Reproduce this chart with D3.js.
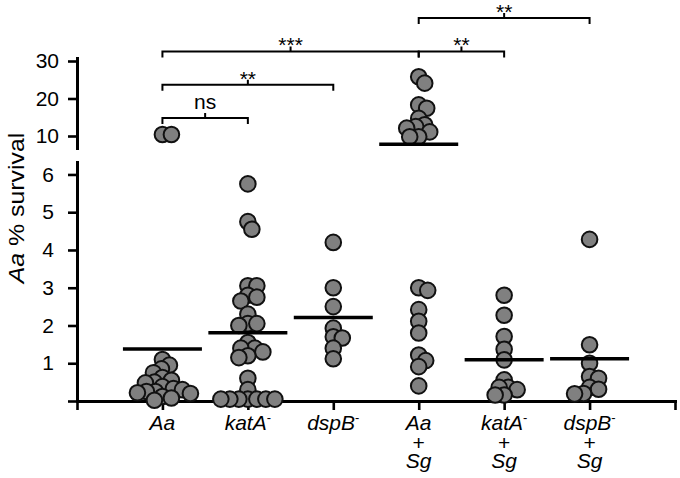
<!DOCTYPE html>
<html><head><meta charset="utf-8">
<script src="https://cdn.jsdelivr.net/npm/d3@7"></script>
<style>body{margin:0;background:#fff} svg{display:block;font-family:"Liberation Sans",Arial,sans-serif}</style>
</head><body><svg id="c" width="680" height="478"></svg>
<script>
// ---- data ----
const groups = ["Aa", "katA-", "dspB-", "Aa+Sg", "katA-+Sg", "dspB-+Sg"];
const strain = ["Aa", "katA", "dspB", "Aa", "katA", "dspB"];
const strainSup = ["", "-", "-", "", "-", "-"];
const withSg = [false, false, false, true, true, true];

const valsAa = [10.4, 10.4, 1.1, 0.95, 0.85, 0.75, 0.62, 0.55, 0.5, 0.48, 0.38, 0.33, 0.3, 0.25, 0.25, 0.22, 0.2, 0.12, 0.08, 0.02];
const valsKatA = [5.75, 4.75, 4.55, 3.05, 3.05, 2.8, 2.75, 2.65, 2.3, 2.05, 2.05, 2.0, 1.55, 1.4, 1.4, 1.3, 1.2, 1.15, 0.6, 0.3, 0.05, 0.05, 0.05, 0.05, 0.05, 0.05, 0.05];
const valsDspB = [4.2, 3.0, 2.5, 1.93, 1.7, 1.67, 1.4, 1.12];
const valsAaSg = [25.8, 24.1, 18.3, 17.4, 14.7, 13.0, 12.5, 12.1, 11.1, 9.8, 9.8, 3.0, 2.93, 2.42, 2.11, 1.8, 1.22, 1.07, 0.91, 0.4];
const valsKatASg = [2.8, 2.27, 1.71, 1.37, 1.09, 0.56, 0.36, 0.36, 0.3, 0.16, 0.16];
const valsDspBSg = [4.28, 1.49, 1.0, 0.65, 0.6, 0.36, 0.31, 0.2, 0.19];
const seriesValues = [valsAa, valsKatA, valsDspB, valsAaSg, valsKatASg, valsDspBSg];
const means = [1.38, 1.81, 2.21, 7.8, 1.09, 1.12];

const lowTicks = [0, 1, 2, 3, 4, 5, 6];
const highTicks = [10, 20, 30];
const comparisons = [[0, 1, "ns"], [0, 2, "**"], [0, 3, "***"], [3, 4, "**"], [3, 5, "**"]];
const compLevel = [0, 1, 2, 2, 3];

// ---- layout ----
const svg = d3.select("#c");
const FONT = 21;
const x = d3.scaleLinear().domain([-1, groups.length]).range([77, 675]);
const cut = 6.33;
const yLow = d3.scaleLinear().domain([0, cut]).range([401, 162]);
const yHigh = d3.scaleLinear().domain([6.8, 30.8]).range([148, 58]);
const yOf = v => v > cut ? yHigh(v) : yLow(v);

function styleAxis(g) {
  g.select(".domain").attr("stroke-width", 3).attr("stroke", "#000").attr("stroke-linecap", "square");
  g.selectAll(".tick line").attr("stroke-width", 2.6).attr("stroke", "#000");
  g.selectAll(".tick text").attr("font-size", FONT).attr("fill", "#000")
    .attr("font-family", '"Liberation Sans",Arial,sans-serif');
}

// x axis
const gx = svg.append("g").attr("transform", "translate(0,401)")
  .call(d3.axisBottom(x).tickValues(d3.range(-1, groups.length + 1)).tickSize(9).tickSizeOuter(0).tickFormat(""));
styleAxis(gx);

// y axes
const gyL = svg.append("g").attr("transform", "translate(77,0)")
  .call(d3.axisLeft(yLow).tickValues(lowTicks).tickSize(9).tickSizeOuter(0).tickPadding(14)
    .tickFormat(d => d === 0 ? "" : d));
styleAxis(gyL);
const gyH = svg.append("g").attr("transform", "translate(77,0)")
  .call(d3.axisLeft(yHigh).tickValues(highTicks).tickSize(9).tickSizeOuter(0).tickPadding(9));
styleAxis(gyH);

// y title
const yt = svg.append("text").attr("transform", "translate(24,208) rotate(-90) scale(1.13,1)")
  .attr("text-anchor", "middle").attr("font-size", 22);
yt.append("tspan").attr("font-style", "italic").text("Aa");
yt.append("tspan").text(" % survival");

// x labels
groups.forEach((g, i) => {
  const t = svg.append("text").attr("x", x(i)).attr("y", 430).attr("text-anchor", "middle")
    .attr("font-size", FONT).attr("font-style", "italic");
  t.append("tspan").text(strain[i]);
  if (strainSup[i]) t.append("tspan").attr("font-size", 13).attr("font-style", "normal").attr("dy", -8).text(strainSup[i]);
  if (withSg[i]) {
    t.append("tspan").attr("x", x(i)).attr("y", 450).attr("font-style", "normal").text("+");
    t.append("tspan").attr("x", x(i)).attr("y", 468).text("Sg");
  }
});

// swarm
function swarm(ys, d) {
  const placed = [];
  return ys.map(y => {
    for (let k = 0; k < 400; k++) {
      const off = k === 0 ? 0 : (k % 2 ? Math.ceil(k / 2) : -Math.ceil(k / 2));
      if (placed.every(p => (p.x - off) ** 2 + (p.y - y) ** 2 >= d * d)) {
        placed.push({ x: off, y });
        return off;
      }
    }
    return 0;
  });
}

const pts = [];
seriesValues.forEach((vals, i) => {
  const ys = vals.map(yOf);
  const offs = swarm(ys, 8.5);
  vals.forEach((v, j) => pts.push({ cx: x(i) + offs[j], cy: ys[j] }));
});
svg.append("g").selectAll("circle").data(pts).join("circle")
  .attr("cx", d => d.cx).attr("cy", d => d.cy).attr("r", 7.8)
  .attr("fill", "#808080").attr("stroke", "#111").attr("stroke-width", 2);

// mean lines
svg.append("g").selectAll("line").data(means).join("line")
  .attr("x1", (m, i) => x(i) - 39.5).attr("x2", (m, i) => x(i) + 39.5)
  .attr("y1", m => yOf(m)).attr("y2", m => yOf(m))
  .attr("stroke", "#000").attr("stroke-width", 3.5);

// significance brackets
comparisons.forEach(([a, b, lab], k) => {
  const yB = 118 - compLevel[k] * 33.3;
  const xa = x(a), xb = x(b), cx = (xa + xb) / 2;
  svg.append("path").attr("d", `M${xa},${yB + 6}V${yB}H${xb}V${yB + 6}M${cx},${yB}V${yB - 5}`)
    .attr("fill", "none").attr("stroke", "#000").attr("stroke-width", 2);
  svg.append("text").attr("x", cx).attr("y", lab === "ns" ? yB - 9 : yB + 1)
    .attr("text-anchor", "middle").attr("font-size", FONT).text(lab);
});
</script></body></html>
